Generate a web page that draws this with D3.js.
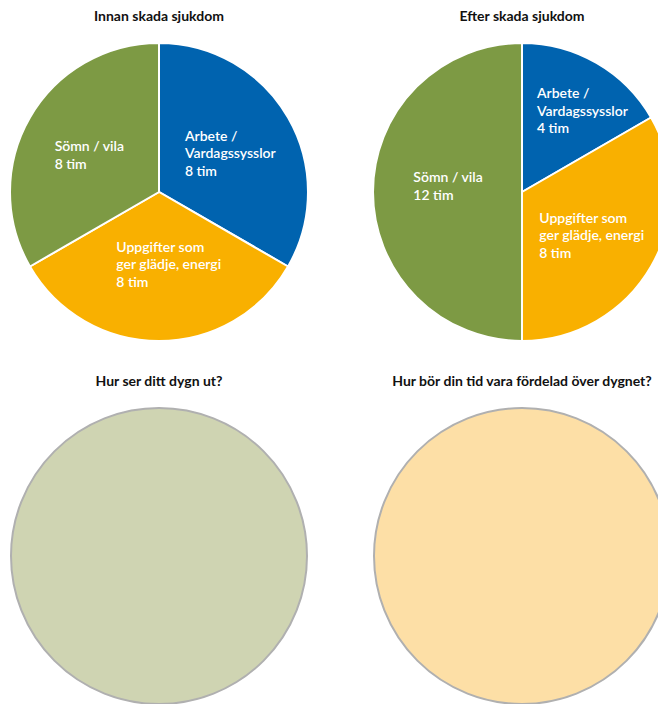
<!DOCTYPE html>
<html>
<head>
<meta charset="utf-8">
<script src="https://cdn.jsdelivr.net/npm/d3@7"></script>
<style>
  body { margin: 0; background: #fff; }
  text { font-family: Lato, "Open Sans", sans-serif; }
</style>
</head>
<body>
<div id="chart"></div>
<script>
// activities and hours
const categories = ["Arbete / Vardagssysslor", "Uppgifter som ger glädje, energi", "Sömn / vila"];
const labelLines = [["Arbete /", "Vardagssysslor"], ["Uppgifter som", "ger glädje, energi"], ["Sömn / vila"]];
const hoursBefore = [8, 8, 8];
const hoursAfter = [4, 8, 12];
const titles = ["Innan skada sjukdom", "Efter skada sjukdom", "Hur ser ditt dygn ut?", "Hur bör din tid vara fördelad över dygnet?"];
const unit = "tim";

const colors = ["#0063af", "#f9b000", "#7d9a44"];
const emptyFills = ["#cfd4b2", "#fddfa6"];

const W = 658, H = 704;
const radius = 149;
const centers = [[159, 192], [522, 192], [159, 556], [522, 556]];
// label block placement in each slice: share of radius, and turn (degrees) from the slice middle
const labelRadius = [[0.56, 0.47, 0.54], [0.70, 0.54, 0.50]];
const labelTurn = [[0, -8, 0], [6, 0, 7]];
const lineH = 17.5;

const svg = d3.select("#chart").append("svg")
    .attr("width", W)
    .attr("height", H);

var pie = d3.pie().sort(null).value(function (d) { return d; });
var arc = d3.arc().innerRadius(0).outerRadius(radius);

function draw_pie(values, idx)
{
    var g = svg.append("g")
        .attr("transform", "translate(" + centers[idx][0] + "," + centers[idx][1] + ")");

    var arcs = pie(values);

    g.selectAll("path")
        .data(arcs)
        .join("path")
        .attr("d", arc)
        .attr("fill", function (d, i) { return colors[i]; })
        .attr("stroke", "#fff")
        .attr("stroke-width", 2);

    arcs.forEach(function (d, i) {
        var r = radius * labelRadius[idx][i];
        var a = (d.startAngle + d.endAngle) / 2 + labelTurn[idx][i] * Math.PI / 180;
        var c = [Math.sin(a) * r, -Math.cos(a) * r];
        var lines = labelLines[i].concat([d.data + " " + unit]);
        var t = g.append("text")
            .attr("fill", "#fff")
            .attr("font-size", 14)
            .attr("font-weight", 600);
        lines.forEach(function (l, k) {
            t.append("tspan").attr("x", 0).attr("dy", k == 0 ? 0 : lineH).text(l);
        });
        var bb = t.node().getBBox();
        t.attr("transform", "translate(" + (c[0] - bb.width / 2) + "," + (c[1] - (lines.length - 1) * lineH / 2 + 8) + ")");
    });
}

function draw_title(text, idx, y)
{
    svg.append("text")
        .attr("x", centers[idx][0])
        .attr("y", y)
        .attr("text-anchor", "middle")
        .attr("font-size", 14)
        .attr("font-weight", 700)
        .attr("fill", "#111")
        .text(text);
}

draw_title(titles[0], 0, 21);
draw_title(titles[1], 1, 21);
draw_title(titles[2], 2, 386);
draw_title(titles[3], 3, 386);

draw_pie(hoursBefore, 0);
draw_pie(hoursAfter, 1);

// empty circles to fill in
svg.selectAll("circle.empty")
    .data(emptyFills)
    .join("circle")
    .attr("class", "empty")
    .attr("cx", function (d, i) { return centers[i + 2][0]; })
    .attr("cy", function (d, i) { return centers[i + 2][1]; })
    .attr("r", radius - 1)
    .attr("fill", function (d) { return d; })
    .attr("stroke", "#b0b0b0")
    .attr("stroke-width", 2);
</script>
</body>
</html>
